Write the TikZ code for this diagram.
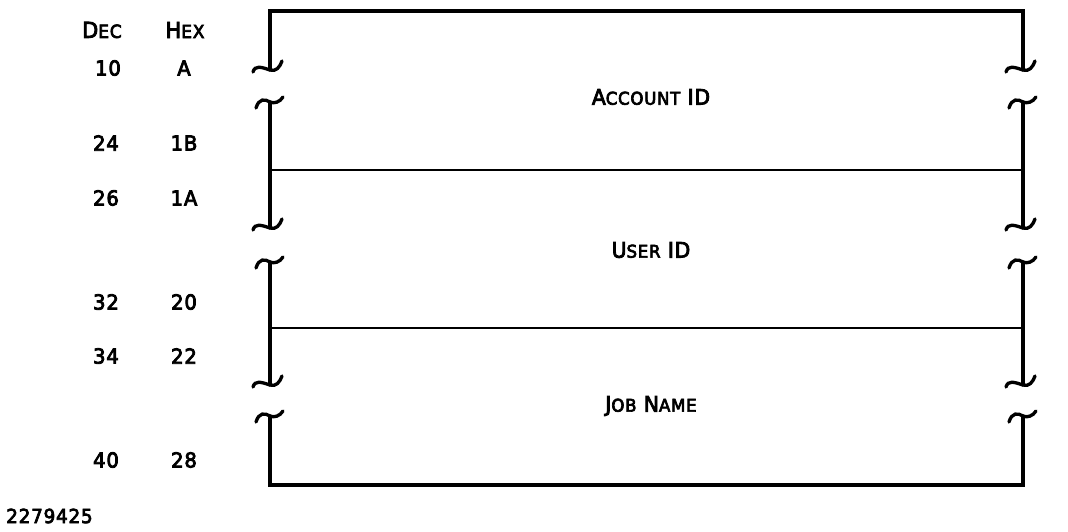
\documentclass[tikz,border=0pt]{standalone}
\usepackage{fontspec}
\setmainfont[FakeStretch=0.95,LetterSpace=4,FakeBold=4]{DejaVu Sans}
\usepackage{graphicx}
\usetikzlibrary{positioning}

\newcommand{\lowcap}[1]{\scalebox{0.82}{#1}}

\tikzset{
  frame/.style={line width=2.5pt, line cap=round, line join=miter},
  divider/.style={line width=1.4pt},
  headtext/.style={font=\fontsize{16.5}{19}\selectfont, inner sep=0pt},
  numtext/.style={font=\fontsize{15.5}{18}\selectfont, inner sep=0pt},
  fieldtext/.style={font=\fontsize{16}{18}\selectfont, inner sep=0pt},
}

\begin{document}
\begin{tikzpicture}[x=0.75pt,y=-0.75pt]
  \useasboundingbox (0,0) rectangle (1068,532);
  % outer frame, top and bottom pieces
  \draw[frame] (270,70) -- (270,11) -- (1023,11) -- (1023,70);
  \draw[frame] (270,416) -- (270,485) -- (1023,485) -- (1023,416);
  % side rails between the breaks
  \foreach \x in {270,1023} {
    \draw[frame] (\x,102) -- (\x,228);
    \draw[frame] (\x,262) -- (\x,385);
    % break marks: end of a piece
    \foreach \y in {70,228,385}
      \draw[frame] (\x-17,\y+2) .. controls (\x-15,\y-5) and (\x-9,\y-3) .. (\x,\y)
                   .. controls (\x+6,\y+2) and (\x+10,\y-3) .. (\x+12,\y-9);
    % break marks: start of a piece
    \foreach \y in {102,262,416}
      \draw[frame] (\x-14,\y+6) .. controls (\x-11,\y-4) and (\x-5,\y-3) .. (\x,\y)
                   .. controls (\x+4,\y+2) and (\x+10,\y) .. (\x+13,\y-5);
  }
  % field boundaries
  \draw[divider] (270,170) -- (1023,170);
  \draw[divider] (270,328) -- (1023,328);
  % field names
  \node[fieldtext] (acct) at (651,97)  {A\lowcap{CCOUNT} ID};
  \node[fieldtext] (user) at (651,250) {U\lowcap{SER} ID};
  \node[fieldtext] (job)  at (651,406) {J\lowcap{OB} N\lowcap{AME}};
  % offset columns
  \node[headtext] (dec) at (102,30) {D\lowcap{EC}};
  \node[headtext] (hex) at (185,30) {H\lowcap{EX}};
  \node[numtext] (d10) at (108,68)  {10};  \node[numtext] (hA)  at (184,68)  {A};
  \node[numtext] (d24) at (106,143) {24};  \node[numtext] (h1B) at (184,143) {1B};
  \node[numtext] (d26) at (106,198) {26};  \node[numtext] (h1A) at (184,198) {1A};
  \node[numtext] (d32) at (106,302) {32};  \node[numtext] (h20) at (184,302) {20};
  \node[numtext] (d34) at (106,356) {34};  \node[numtext] (h22) at (184,356) {22};
  \node[numtext] (d40) at (106,460) {40};  \node[numtext] (h28) at (184,460) {28};
  % figure number
  \node[numtext, anchor=west, font=\fontsize{14.5}{17}\selectfont] (fignum) at (6,516) {2279425};
\end{tikzpicture}
\end{document}
